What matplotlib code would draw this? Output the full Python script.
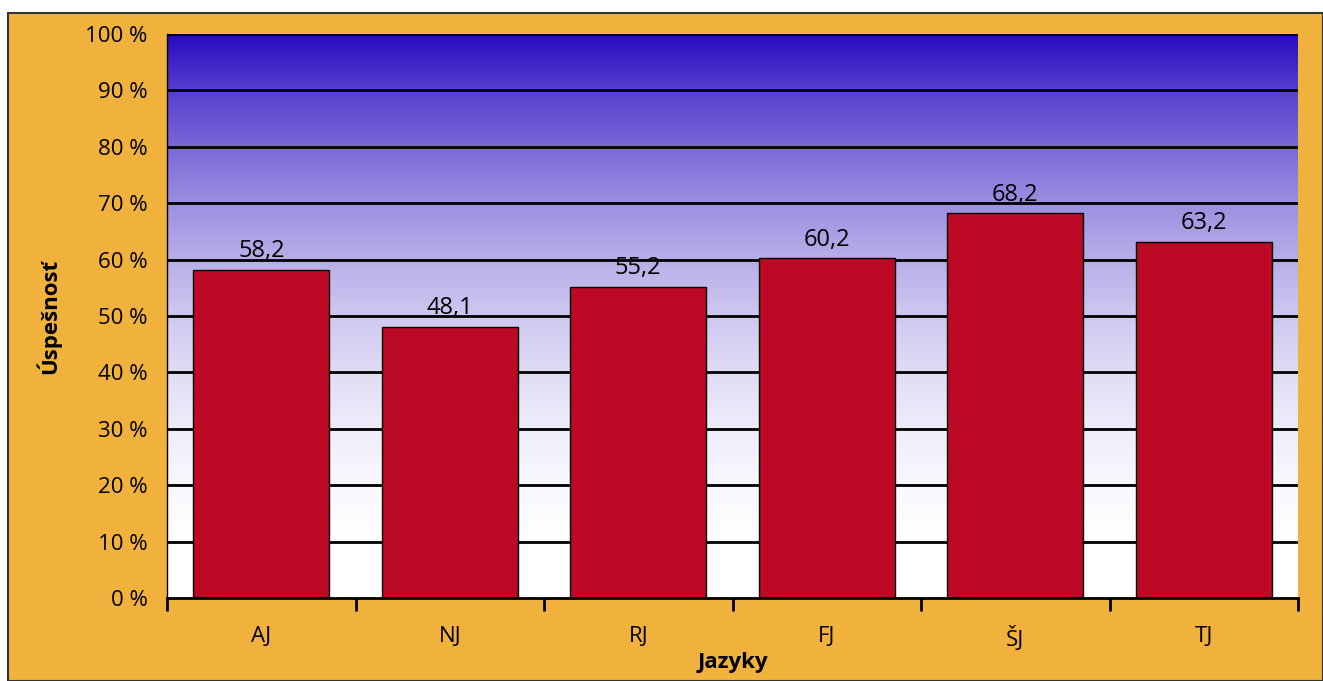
import matplotlib.pyplot as plt
import numpy as np
from matplotlib.colors import LinearSegmentedColormap
from matplotlib.patches import Rectangle

languages = ["AJ", "NJ", "RJ", "FJ", "ŠJ", "TJ"]
success = [58.2, 48.1, 55.2, 60.2, 68.2, 63.2]
y_ticks = list(range(0, 101, 10))

ORANGE = "#F0B23C"
BAR_RED = "#BC0A26"

plt.rcParams["font.family"] = ["Open Sans", "DejaVu Sans"]

fig = plt.figure(figsize=(13.23, 6.81), dpi=100, facecolor="white")
fig.patches.append(Rectangle((8 / 1323, 0), 1 - 8 / 1323, 1 - 13 / 681,
                             transform=fig.transFigure, facecolor=ORANGE,
                             edgecolor="#333333", linewidth=1.5, zorder=-10))

ax = fig.add_axes([167 / 1323, 1 - 598 / 681, (1298 - 167) / 1323, (598 - 34) / 681])
ax.set_xlim(-0.5, len(languages) - 0.5)
ax.set_ylim(0, 100)

# background gradient: dark blue at top, fading to white near the bottom
cmap = LinearSegmentedColormap.from_list("bg", [
    (0.00, "#FFFFFF"), (0.10, "#FFFFFF"), (0.20, "#F8F8FE"), (0.30, "#EEEDFA"),
    (0.40, "#E0DCF5"), (0.50, "#CEC8F0"), (0.60, "#B8AEE8"), (0.70, "#9C90E0"),
    (0.80, "#7A68D8"), (0.90, "#5640CC"), (1.00, "#2A0BC0")])
grad = np.linspace(0, 1, 256).reshape(-1, 1)
ax.imshow(grad, cmap=cmap, aspect="auto", origin="lower",
          extent=(-0.5, len(languages) - 0.5, 0, 100), zorder=0)

for y in y_ticks[1:]:
    ax.axhline(y, color="black", linewidth=2, zorder=1)

x = np.arange(len(languages))
bars = ax.bar(x, success, width=0.72, color=BAR_RED, edgecolor="black",
              linewidth=1, zorder=2)
for bar, v in zip(bars, success):
    ax.text(bar.get_x() + bar.get_width() / 2, v + 1.2, f"{v:.1f}".replace(".", ","),
            ha="center", va="bottom", fontsize=17, color="black", zorder=3)

ax.set_yticks(y_ticks)
ax.set_yticklabels([f"{t} %" for t in y_ticks], fontsize=16)
ax.tick_params(axis="y", length=0, pad=14)

ax.set_xticks(x)
ax.set_xticklabels(languages, fontsize=16)
ax.tick_params(axis="x", which="major", length=0, pad=20)
ax.set_xticks(np.arange(-0.5, len(languages)), minor=True)
ax.tick_params(axis="x", which="minor", length=9, width=2, color="black")

for side in ["top", "right"]:
    ax.spines[side].set_visible(False)
ax.spines["left"].set_linewidth(1)
ax.spines["bottom"].set_linewidth(2)

ax.set_ylabel("Úspešnosť", fontsize=16, fontweight="bold", labelpad=17)
ax.set_xlabel("Jazyky", fontsize=16, fontweight="bold", labelpad=1)

fig.savefig("out.png", dpi=100, facecolor=fig.get_facecolor())
